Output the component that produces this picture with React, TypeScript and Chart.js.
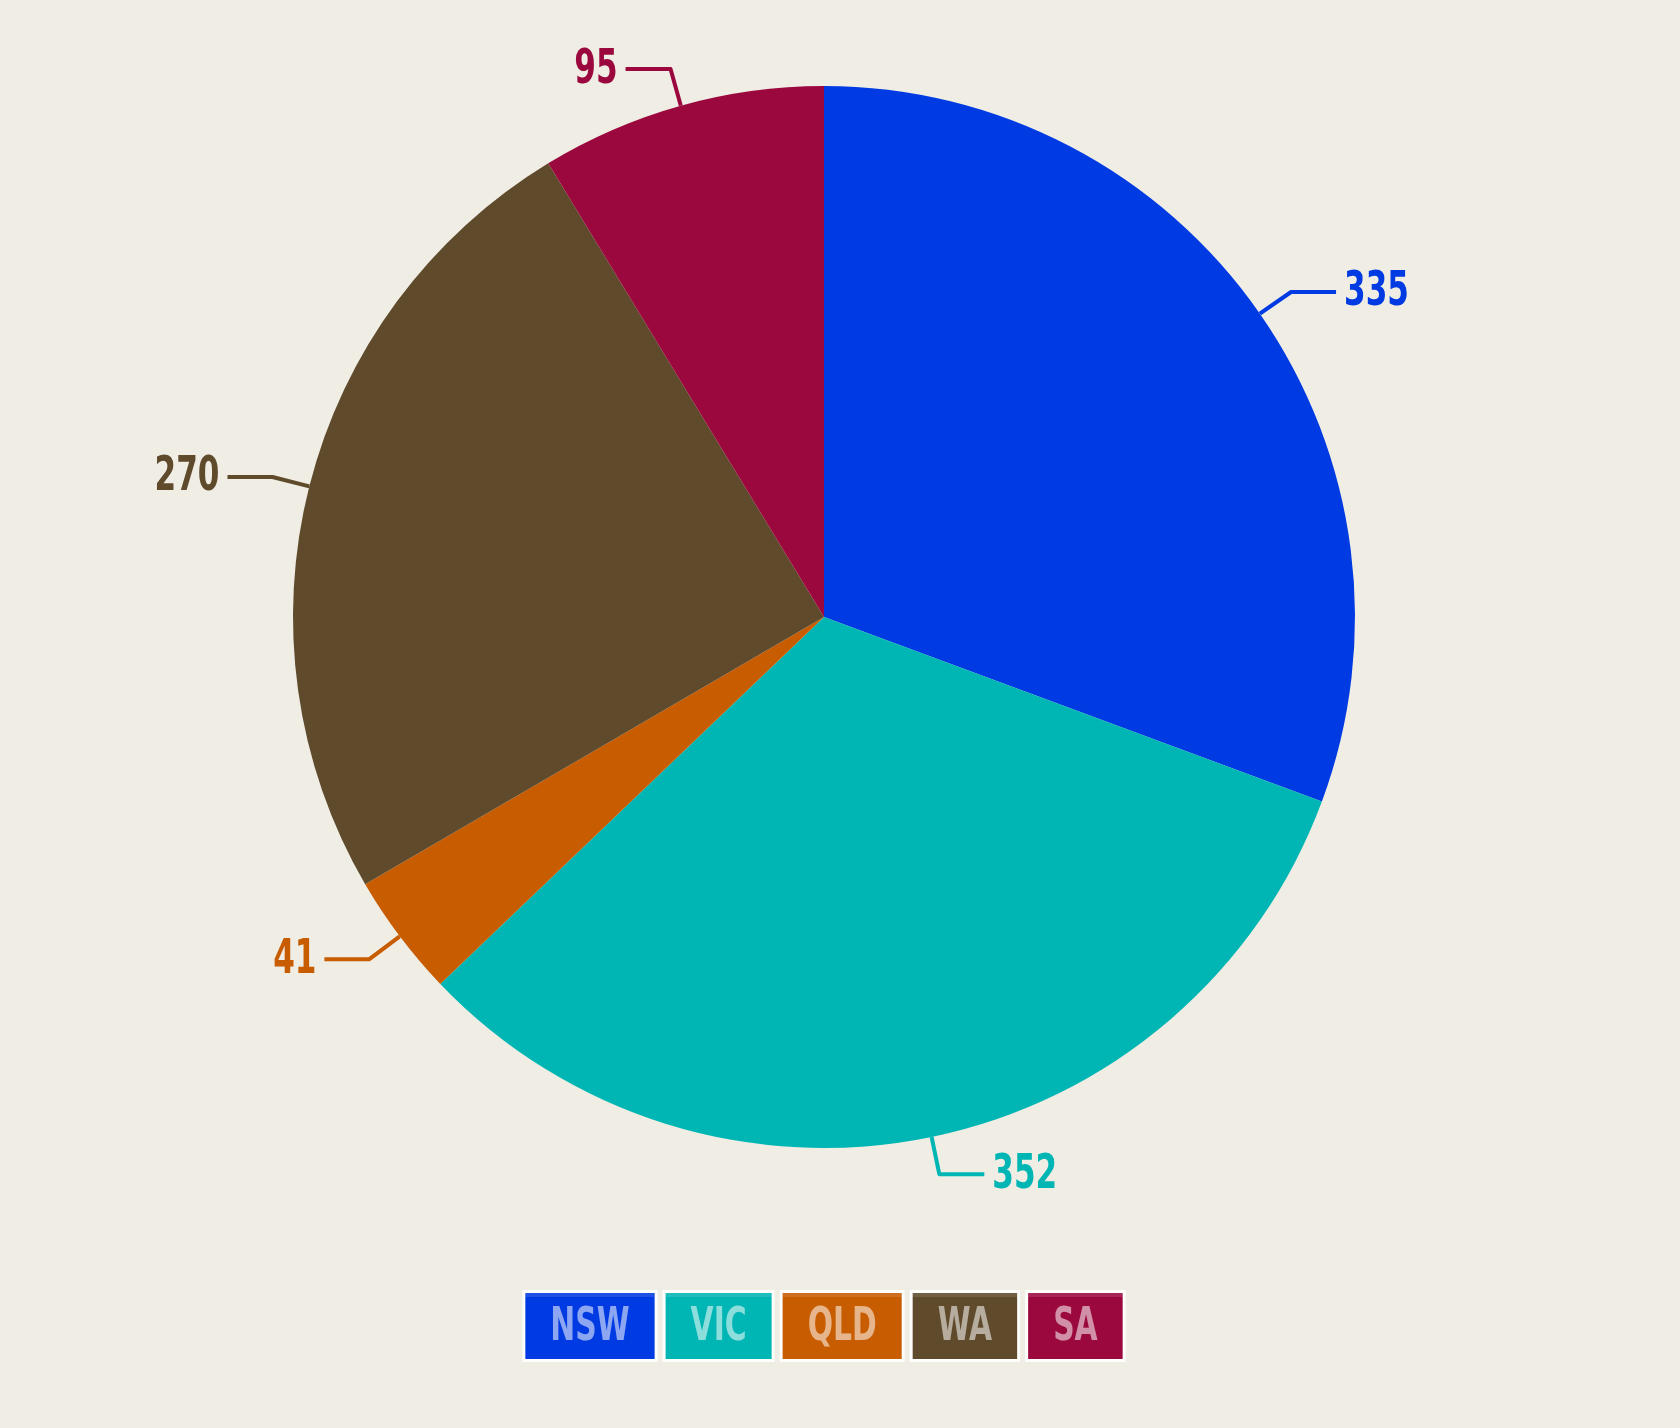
import React, { useEffect, useRef } from "react";
import { Chart, registerables } from "chart.js";

Chart.register(...registerables);

const categories = ["NSW", "VIC", "QLD", "WA", "SA"];
const values = [335, 352, 41, 270, 95];
const colors = ["#003ae2", "#00b6b4", "#c85c00", "#5f4a2c", "#9b083e"];

const BG = "#efede4";
const FONT_FAMILY = '"Liberation Sans Narrow", "DejaVu Sans Condensed", "Liberation Sans", sans-serif';
const SQUEEZE = 0.72;

const labelPlugin = {
  id: "leaderLabels",
  afterDatasetsDraw(chart: any) {
    const ctx = chart.ctx;
    const meta = chart.getDatasetMeta(0);
    const data = chart.data.datasets[0].data;
    ctx.save();
    meta.data.forEach((arc: any, i: number) => {
      const { x, y, startAngle, endAngle, outerRadius } = arc.getProps(
        ["x", "y", "startAngle", "endAngle", "outerRadius"],
        true
      );
      const a = (startAngle + endAngle) / 2;
      const c = Math.cos(a);
      const s = Math.sin(a);
      const p0x = x + outerRadius * c;
      const p0y = y + outerRadius * s;
      const p1x = p0x + 38 * c;
      const p1y = p0y + 38 * s;
      const side = c >= 0 ? 1 : -1;
      const p2x = p1x + side * 45;
      const col = colors[i];
      ctx.strokeStyle = col;
      ctx.lineWidth = 4;
      ctx.lineJoin = "round";
      ctx.beginPath();
      ctx.moveTo(p0x, p0y);
      ctx.lineTo(p1x, p1y);
      ctx.lineTo(p2x, p1y);
      ctx.stroke();
      ctx.save();
      ctx.translate(p2x + side * 8, p1y + 1);
      ctx.scale(SQUEEZE, 1);
      ctx.fillStyle = col;
      ctx.font = `bold 48px ${FONT_FAMILY}`;
      ctx.textBaseline = "middle";
      ctx.textAlign = side > 0 ? "left" : "right";
      ctx.fillText(String(data[i]), 0, 0);
      ctx.restore();
    });
    ctx.restore();
  },
};

const legendPlugin = {
  id: "boxLegend",
  afterDraw(chart: any) {
    const ctx = chart.ctx;
    const labels = chart.data.labels as string[];
    const pad = 25;
    const gap = 11;
    const boxH = 66;
    const top = 1293;
    const centerX = 824;
    ctx.save();
    ctx.font = `bold 46px ${FONT_FAMILY}`;
    const widths = labels.map((l) => ctx.measureText(l).width * SQUEEZE + pad * 2);
    const total = widths.reduce((a, b) => a + b, 0) + gap * (labels.length - 1);
    let xx = centerX - total / 2;
    labels.forEach((l, i) => {
      const w = widths[i];
      ctx.fillStyle = "rgba(255,255,255,0.85)";
      ctx.fillRect(xx - 3, top - 3, w + 6, boxH + 6);
      ctx.fillStyle = colors[i];
      ctx.fillRect(xx, top, w, boxH);
      ctx.fillStyle = "rgba(255,255,255,0.12)";
      ctx.fillRect(xx, top, w, 4);
      ctx.save();
      ctx.translate(xx + w / 2, top + boxH / 2 + 2);
      ctx.scale(SQUEEZE, 1);
      ctx.fillStyle = "rgba(255,255,255,0.55)";
      ctx.textAlign = "center";
      ctx.textBaseline = "middle";
      ctx.fillText(l, 0, 0);
      ctx.restore();
      xx += w + gap;
    });
    ctx.restore();
  },
};

export default function App() {
  const ref = useRef<HTMLCanvasElement | null>(null);
  useEffect(() => {
    if (!ref.current) return;
    const chart = new Chart(ref.current, {
      type: "pie",
      data: {
        labels: categories,
        datasets: [
          {
            data: values,
            backgroundColor: colors,
            borderWidth: 0,
          },
        ],
      },
      options: {
        animation: false,
        responsive: false,
        maintainAspectRatio: false,
        layout: { padding: { left: 293, right: 325, top: 86, bottom: 280 } },
        plugins: {
          legend: { display: false },
          tooltip: { enabled: false },
        },
      },
      plugins: [labelPlugin, legendPlugin],
    });
    return () => chart.destroy();
  }, []);
  return (
    <div
      style={{
        position: "fixed",
        left: 0,
        top: 0,
        width: 1680,
        height: 1428,
        background: BG,
      }}
    >
      <canvas ref={ref} width={1680} height={1428} style={{ display: "block" }} />
    </div>
  );
}
